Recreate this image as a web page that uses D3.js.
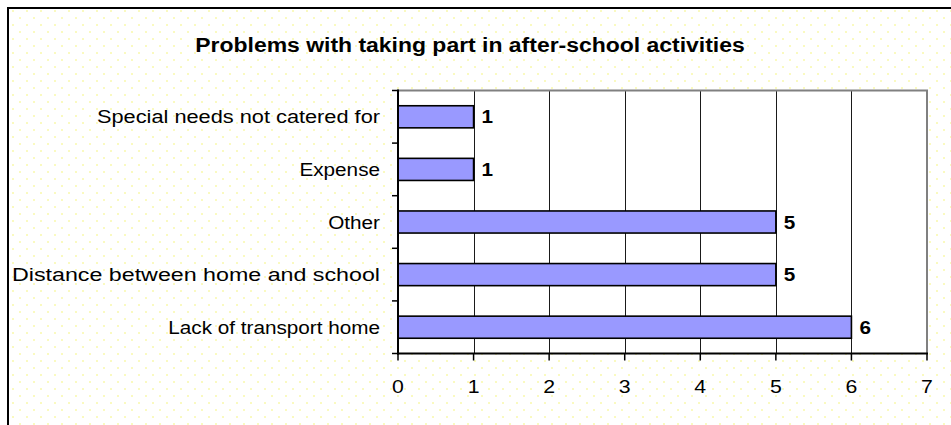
<!DOCTYPE html>
<html>
<head>
<meta charset="utf-8">
<script src="https://cdn.jsdelivr.net/npm/d3@7"></script>
<style>
  html, body { margin: 0; padding: 0; background: #fff; }
  svg { display: block; }
  text { font-family: "Liberation Sans", Arial, sans-serif; }
</style>
</head>
<body>
<script>
const title = "Problems with taking part in after-school activities";
const categories = ["Special needs not catered for", "Expense", "Other", "Distance between home and school", "Lack of transport home"];
const values = [1, 1, 5, 5, 6];
const xTicks = [0, 1, 2, 3, 4, 5, 6, 7];

const W = 951, H = 425;
const plot = { left: 398, right: 927, top: 90.5, bottom: 353.5 };
const SX = 1.12; // horizontal text stretch seen in reference
// rendered widths of the longer category labels in the reference (layout only)
const labelWidth = { "Special needs not catered for": 283, "Distance between home and school": 368 };

const svg = d3.select("body").append("svg").attr("width", W).attr("height", H);

// dotted background pattern
const defs = svg.append("defs");
const pat = defs.append("pattern").attr("id", "dots").attr("patternUnits", "userSpaceOnUse")
  .attr("width", 14).attr("height", 14);
pat.append("rect").attr("width", 14).attr("height", 14).attr("fill", "#ffffff");
pat.append("rect").attr("x", 5).attr("y", 3).attr("width", 2).attr("height", 2).attr("fill", "#fafac0");
pat.append("rect").attr("x", 12).attr("y", 10).attr("width", 2).attr("height", 2).attr("fill", "#fafac0");

svg.append("rect").attr("x", 0).attr("y", 0).attr("width", W).attr("height", H).attr("fill", "#fff");
svg.append("rect").attr("x", 8).attr("y", 8).attr("width", W + 20).attr("height", H + 20)
  .attr("fill", "url(#dots)").attr("stroke", "#000").attr("stroke-width", 2);

const x = d3.scaleLinear().domain([0, 7]).range([plot.left, plot.right]);
const y = d3.scaleBand().domain(categories).range([plot.top, plot.bottom]).paddingInner(0).paddingOuter(0);

// plot area
svg.append("rect").attr("x", plot.left).attr("y", plot.top)
  .attr("width", plot.right - plot.left).attr("height", plot.bottom - plot.top)
  .attr("fill", "#fff");

// gridlines
svg.append("g").selectAll("line").data(xTicks.filter(d => d > 0 && d < 7)).join("line")
  .attr("x1", d => Math.round(x(d)) + 0.5).attr("x2", d => Math.round(x(d)) + 0.5)
  .attr("y1", plot.top).attr("y2", plot.bottom)
  .attr("stroke", "#1a1a1a").attr("stroke-width", 1);

// plot border top/right (gray)
svg.append("path")
  .attr("d", `M${plot.left},${plot.top}H${plot.right}V${plot.bottom}`)
  .attr("fill", "none").attr("stroke", "#808080").attr("stroke-width", 2);

// bars
const bh = y.bandwidth() * 0.42;
svg.append("g").selectAll("rect").data(categories).join("rect")
  .attr("x", x(0))
  .attr("y", d => y(d) + (y.bandwidth() - bh) / 2)
  .attr("width", (d, i) => x(values[i]) - x(0))
  .attr("height", bh)
  .attr("fill", "#9999ff").attr("stroke", "#000").attr("stroke-width", 1.6);

// value labels
svg.append("g").selectAll("text").data(categories).join("text")
  .attr("transform", (d, i) => `translate(${x(values[i]) + 8},${y(d) + y.bandwidth() / 2}) scale(${SX},1)`)
  .attr("dy", "0.36em")
  .attr("font-size", 18.5).attr("font-weight", "bold").attr("fill", "#000")
  .text((d, i) => values[i]);

// y axis
const yAxis = svg.append("g");
yAxis.append("line").attr("x1", plot.left).attr("x2", plot.left).attr("y1", plot.top - 1).attr("y2", plot.bottom + 1)
  .attr("stroke", "#000").attr("stroke-width", 2);
const bounds = categories.map(c => y(c)).concat([plot.bottom]);
yAxis.selectAll("line.tk").data(bounds).join("line").attr("class", "tk")
  .attr("x1", plot.left - 6).attr("x2", plot.left)
  .attr("y1", d => d).attr("y2", d => d)
  .attr("stroke", "#000").attr("stroke-width", 1.5);
yAxis.selectAll("text").data(categories).join("text")
  .attr("transform", d => `translate(${plot.left - 18},${y(d) + y.bandwidth() / 2}) scale(${SX},1)`)
  .attr("dy", "0.36em").attr("text-anchor", "end")
  .attr("font-size", 18.5).attr("fill", "#000")
  .each(function (d) {
    if (labelWidth[d]) d3.select(this).attr("textLength", labelWidth[d] / SX).attr("lengthAdjust", "spacingAndGlyphs");
  })
  .text(d => d);

// x axis
const xAxis = svg.append("g");
xAxis.append("line").attr("x1", plot.left - 1).attr("x2", plot.right + 1).attr("y1", plot.bottom).attr("y2", plot.bottom)
  .attr("stroke", "#000").attr("stroke-width", 2);
xAxis.selectAll("line.tk").data(xTicks).join("line").attr("class", "tk")
  .attr("x1", d => x(d)).attr("x2", d => x(d))
  .attr("y1", plot.bottom).attr("y2", plot.bottom + 7)
  .attr("stroke", "#000").attr("stroke-width", 1.5);
xAxis.selectAll("text").data(xTicks).join("text")
  .attr("transform", d => `translate(${x(d)},${plot.bottom + 33}) scale(${SX},1)`)
  .attr("dy", "0.36em").attr("text-anchor", "middle")
  .attr("font-size", 19).attr("fill", "#000")
  .text(d => d);

// title
svg.append("text")
  .attr("transform", `translate(470,45) scale(${SX},1)`)
  .attr("dy", "0.36em").attr("text-anchor", "middle")
  .attr("font-size", 20.5).attr("font-weight", "bold").attr("fill", "#000")
  .text(title);
</script>
</body>
</html>
